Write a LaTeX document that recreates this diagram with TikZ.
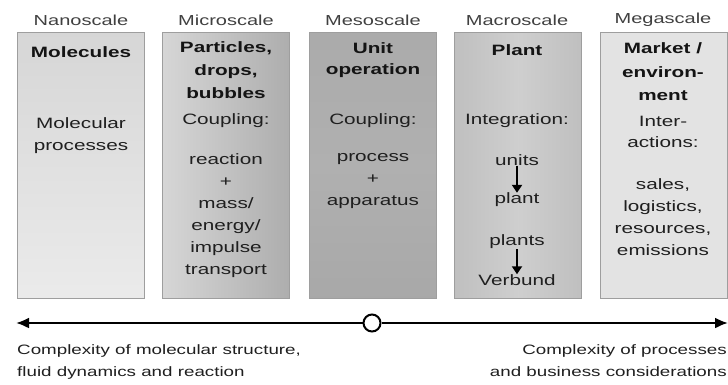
\documentclass[tikz,border=0pt]{standalone}
\usepackage{fontspec}
\setmainfont[FakeStretch=1.38]{Liberation Sans}
\usetikzlibrary{arrows.meta}
\begin{document}
\begin{tikzpicture}[x=1pt,y=-1pt,
  txt/.style={inner sep=0pt, text=black!88, font=\fontsize{15}{22}\selectfont, align=center},
  ttl/.style={inner sep=0pt, text=black!92, font=\fontsize{15}{23}\selectfont\bfseries, align=center},
  hdr/.style={inner sep=0pt, text=black!75, font=\fontsize{14.5}{18}\selectfont},
  foot/.style={inner sep=0pt, text=black!88, font=\fontsize{13.6}{22}\selectfont},
  scalebox/.style={draw=black!38, line width=1.2pt, minimum width=127pt, minimum height=266pt, inner sep=0pt, anchor=north west},
  smallarrow/.style={line width=2pt, -{Triangle[length=8pt,width=10pt]}},
  axis/.style={line width=2.2pt, -{Latex[length=13pt,width=11pt]}}]
\useasboundingbox (0,0) rectangle (728,384);
% boxes
\node[scalebox, top color=black!16, bottom color=black!8] (b1) at (17,32) {};
\node[scalebox, left color=black!16, right color=black!32] (b2) at (162,32) {};
\node[scalebox, top color=black!33, bottom color=black!34, middle color=black!31] (b3) at (309,32) {};
\node[scalebox, left color=black!25, right color=black!25, middle color=black!19] (b4) at (454,32) {};
\node[scalebox, top color=black!11, bottom color=black!11] (b5) at (600,32) {};
% headers
\node[hdr] (h1) at (81,20) {Nanoscale};
\node[hdr] (h2) at (226,20) {Microscale};
\node[hdr] (h3) at (373,20) {Mesoscale};
\node[hdr] (h4) at (517,20) {Macroscale};
\node[hdr] (h5) at (663,20) {Megascale};
% box 1
\node[ttl] (t1) at (81,52) {Molecules};
\node[txt] (m1) at (81,136) {Molecular\\processes};
% box 2
\node[ttl] (t2) at (226,70) {Particles,\\drops,\\bubbles};
\node[txt] (c2) at (226,121) {Coupling:};
\node[txt] (m2) at (226,216) {reaction\\+\\mass/\\energy/\\impulse\\transport};
% box 3
\node[ttl, font=\fontsize{15}{21}\selectfont\bfseries] (t3) at (373,60) {Unit\\operation};
\node[txt] (c3) at (373,121) {Coupling:};
\node[txt] (m3) at (373,181) {process\\+\\apparatus};
% box 4
\node[ttl] (t4) at (517,50) {Plant};
\node[txt] (c4) at (517,121) {Integration:};
\node[txt] (u4) at (517,160) {units};
\node[txt] (p4) at (517,200) {plant};
\node[txt] (q4) at (517,242) {plants};
\node[txt] (v4) at (517,280) {Verbund};
\draw[smallarrow] (u4) -- (p4);
\draw[smallarrow] (q4) -- (v4);
% box 5
\node[ttl, font=\fontsize{15}{23.5}\selectfont\bfseries] (t5) at (663,72) {Market /\\environ-\\ment};
\node[txt, font=\fontsize{15}{21}\selectfont] (c5) at (663,132) {Inter-\\actions:};
\node[txt] (m5) at (663,217) {sales,\\logistics,\\resources,\\emissions};
% axis
\coordinate (L) at (16,323);
\coordinate (R) at (728,323);
\node[circle, draw=black, line width=2pt, fill=white, minimum size=17pt, inner sep=0pt] (c) at (372,323) {};
\draw[axis] (c) -- (L);
\draw[axis] (c) -- (R);
% footers
\node[foot, anchor=north west, align=left] (f1) at (17,344) {Complexity of molecular structure,\\fluid dynamics and reaction};
\node[foot, anchor=north east, align=right] (f2) at (727,344) {Complexity of processes\\and business considerations};
\end{tikzpicture}
\end{document}
